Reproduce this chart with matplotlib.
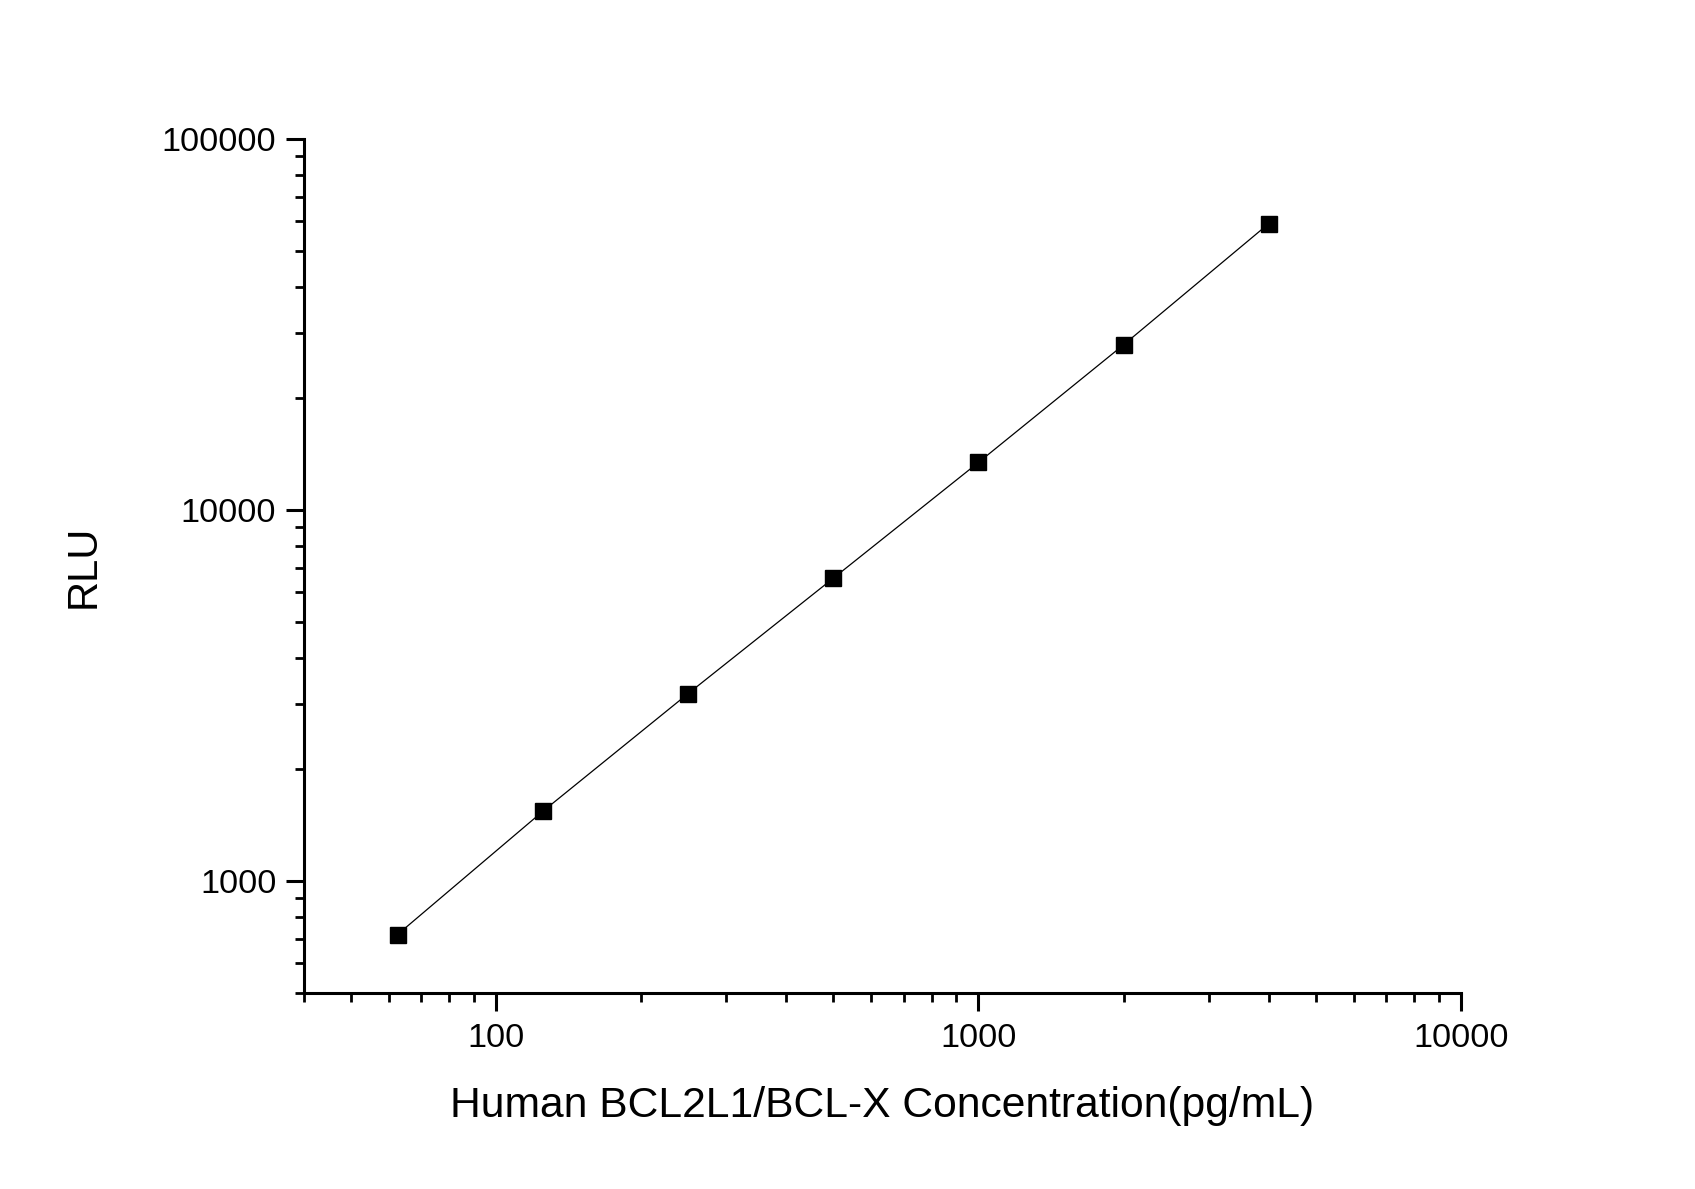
import matplotlib
matplotlib.use("Agg")
import matplotlib.pyplot as plt
from matplotlib.ticker import LogLocator, NullFormatter, FixedLocator, FixedFormatter

plt.rcParams['font.family'] = ['Liberation Sans', 'DejaVu Sans']

concentration = [62.5, 125, 250, 500, 1000, 2000, 4000]
rlu = [718, 1542, 3200, 6550, 13440, 27900, 59200]
x_ticks = [100, 1000, 10000]
x_tick_labels = ["100", "1000", "10000"]
y_ticks = [1000, 10000, 100000]
y_tick_labels = ["1000", "10000", "100000"]

fig = plt.figure(figsize=(16.95, 11.89), dpi=100)
ax = fig.add_axes([0.1794, 0.165, 0.6824, 0.718])

ax.plot(concentration, rlu, color='black', linewidth=0.9, zorder=2)
ax.plot(concentration, rlu, linestyle='none', marker='s', markersize=11.5,
        color='black', zorder=3)

ax.set_xscale('log')
ax.set_yscale('log')
ax.set_xlim(40, 10000)
ax.set_ylim(500, 100000)

ax.xaxis.set_major_locator(FixedLocator(x_ticks))
ax.xaxis.set_major_formatter(FixedFormatter(x_tick_labels))
ax.yaxis.set_major_locator(FixedLocator(y_ticks))
ax.yaxis.set_major_formatter(FixedFormatter(y_tick_labels))
ax.xaxis.set_minor_locator(LogLocator(base=10, subs=range(2, 10), numticks=20))
ax.yaxis.set_minor_locator(LogLocator(base=10, subs=range(2, 10), numticks=20))
ax.xaxis.set_minor_formatter(NullFormatter())
ax.yaxis.set_minor_formatter(NullFormatter())

for s in ['top', 'right']:
    ax.spines[s].set_visible(False)
for s in ['left', 'bottom']:
    ax.spines[s].set_linewidth(2.2)

ax.tick_params(which='major', direction='out', length=13, width=2.2,
               labelsize=24.7, pad=7)
ax.tick_params(axis='x', which='major', pad=8.5)
ax.tick_params(which='minor', direction='out', length=6.8, width=2.0)

ax.set_xlabel("Human BCL2L1/BCL-X Concentration(pg/mL)", fontsize=30.7, labelpad=23)
ax.set_ylabel("RLU", fontsize=30, labelpad=42)

fig.savefig("out.png", dpi=100)
